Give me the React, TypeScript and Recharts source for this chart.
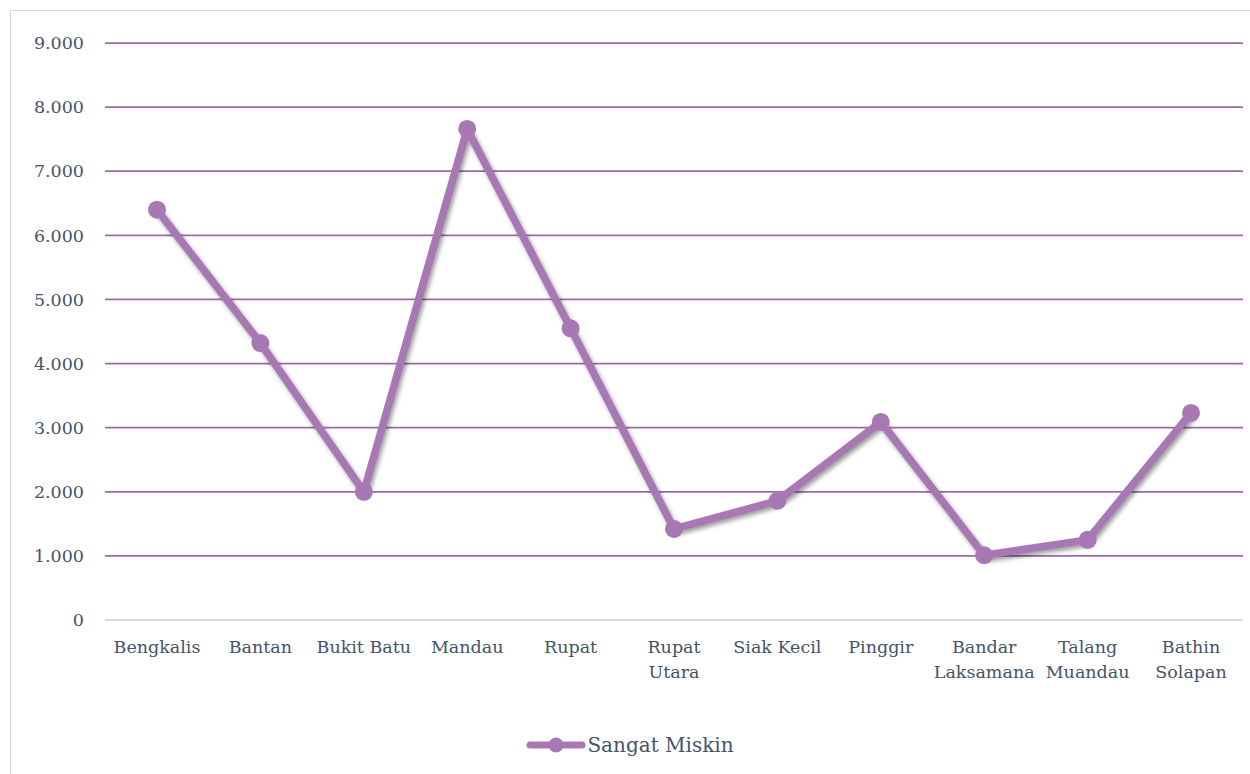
import { CartesianGrid, Legend, Line, LineChart, XAxis, YAxis } from "recharts";

// Kecamatan di Kabupaten Bengkalis
const kecamatan = [
  "Bengkalis",
  "Bantan",
  "Bukit Batu",
  "Mandau",
  "Rupat",
  "Rupat Utara",
  "Siak Kecil",
  "Pinggir",
  "Bandar Laksamana",
  "Talang Muandau",
  "Bathin Solapan",
];

// jumlah rumah tangga sangat miskin
const sangatMiskin = [6400, 4320, 2000, 7660, 4550, 1420, 1860, 3090, 1010, 1250, 3230];

const yTicks = [0, 1000, 2000, 3000, 4000, 5000, 6000, 7000, 8000, 9000];

const SERIES_LABEL = "Sangat Miskin";

const LINE_COLOR = "#a878b4";
const GRID_COLOR = "#9a6ca2";
const TEXT_COLOR = "#44546a";
const FONT = "'DejaVu Serif', serif";

const data = kecamatan.map((k, i) => ({ name: k, value: sangatMiskin[i] }));

const fmtID = (v: number) => (v === 0 ? "0" : v.toLocaleString("id-ID"));

// label panjang dipecah jadi dua baris, seperti di Excel
function CategoryTick({ x, y, payload }: any) {
  const label: string = payload.value;
  const lines = label.length > 10 ? label.split(" ") : [label];
  return (
    <text x={x} y={y} textAnchor="middle" fill={TEXT_COLOR} fontSize={17.5} fontFamily={FONT}>
      {lines.map((w, i) => (
        <tspan key={i} x={x} dy={i === 0 ? "0.71em" : 25}>
          {w}
        </tspan>
      ))}
    </text>
  );
}

function LegendContent() {
  return (
    <div
      style={{
        display: "flex",
        justifyContent: "center",
        alignItems: "center",
        height: 30,
        paddingLeft: 6,
      }}
    >
      <svg width={60} height={20}>
        <line x1={4} y1={10} x2={56} y2={10} stroke={LINE_COLOR} strokeWidth={7} strokeLinecap="round" />
        <circle cx={30} cy={10} r={7.5} fill={LINE_COLOR} />
      </svg>
      <span style={{ fontSize: 20, color: TEXT_COLOR, fontFamily: FONT, marginLeft: 1 }}>{SERIES_LABEL}</span>
    </div>
  );
}

export default function App() {
  return (
    <div
      style={{
        position: "absolute",
        left: 10,
        top: 10,
        width: 1240,
        height: 764,
        borderTop: "1px solid #d9d9d9",
        borderLeft: "1px solid #d9d9d9",
        background: "#fff",
        overflow: "hidden",
      }}
    >
      <style>{`.recharts-line { filter: drop-shadow(2px 3px 2px rgba(0,0,0,0.38)); }`}</style>
      <LineChart width={1239} height={763} data={data} margin={{ top: 32, right: 7, left: 0, bottom: 0 }}>
        <CartesianGrid vertical={false} stroke={GRID_COLOR} strokeWidth={1.75} />
        <XAxis
          dataKey="name"
          interval={0}
          height={124}
          padding={{ left: 52, right: 52 }}
          axisLine={{ stroke: "#d9d9d9", strokeWidth: 2 }}
          tickLine={false}
          tickSize={0}
          tickMargin={21}
          tick={<CategoryTick />}
        />
        <YAxis
          width={94}
          domain={[0, 9000]}
          ticks={yTicks}
          interval={0}
          axisLine={false}
          tickLine={false}
          tickSize={0}
          tickMargin={21}
          tickFormatter={fmtID}
          tick={{ fill: TEXT_COLOR, fontSize: 17.5, fontFamily: FONT }}
        />
        <Legend verticalAlign="bottom" content={<LegendContent />} wrapperStyle={{ bottom: 14 }} />
        <Line
          type="linear"
          dataKey="value"
          name={SERIES_LABEL}
          stroke={LINE_COLOR}
          strokeWidth={7.5}
          strokeLinejoin="round"
          dot={{ r: 9, fill: LINE_COLOR, stroke: LINE_COLOR, strokeWidth: 0 }}
          activeDot={false}
          isAnimationActive={false}
        />
      </LineChart>
    </div>
  );
}
